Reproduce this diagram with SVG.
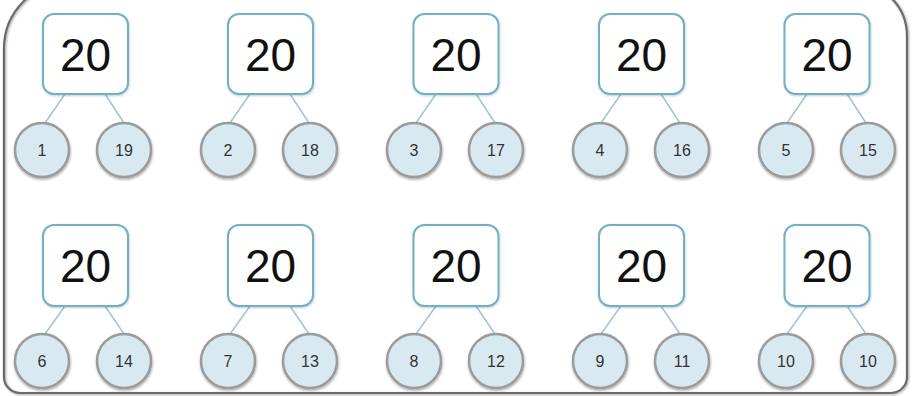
<svg xmlns="http://www.w3.org/2000/svg" width="912" height="396" viewBox="0 0 912 396">
<defs>
<filter id="sh" x="-30%" y="-30%" width="160%" height="170%">
<feDropShadow dx="0.5" dy="1.5" stdDeviation="1" flood-color="#000" flood-opacity="0.35"/>
</filter>
<filter id="shb" x="-30%" y="-30%" width="160%" height="170%">
<feDropShadow dx="0.5" dy="1" stdDeviation="0.8" flood-color="#000" flood-opacity="0.2"/>
</filter>
<filter id="shf" x="-5%" y="-5%" width="110%" height="110%">
<feDropShadow dx="1" dy="1" stdDeviation="1" flood-color="#000" flood-opacity="0.35"/>
</filter>
</defs>
<style>
.box{fill:#fff;stroke:#6fb0c8;stroke-width:2;filter:url(#shb)}
.big{font-family:"Liberation Sans",Arial,sans-serif;font-size:46px;fill:#111;text-anchor:middle}
.c{fill:#d9e9f1;stroke:#9b9b9b;stroke-width:2.5;filter:url(#sh)}
.sm{font-family:"Liberation Sans",Arial,sans-serif;font-size:16px;fill:#333;text-anchor:middle}
.ln{stroke:#9cc6d6;stroke-width:1.5;fill:none}
.frame{fill:none;stroke:#6a6a6a;stroke-width:2.2;filter:url(#shf)}
</style>
<rect width="912" height="396" fill="#fff"/>
<path class="frame" d="M4,377 V48.5 A66.5,66.5 0 0 1 70.5,-18 H853 A54,54 0 0 1 907,36 V377 A16,16 0 0 1 891,393 H20 A16,16 0 0 1 4,377 Z"/>
<g id="connectors">
<path class="ln" d="M65,94 L45,123 M105,94 L124,123"/>
<path class="ln" d="M250,94 L230,123 M290,94 L309,123"/>
<path class="ln" d="M436,94 L416,123 M476,94 L495,123"/>
<path class="ln" d="M621,94 L601,123 M661,94 L680,123"/>
<path class="ln" d="M807,94 L787,123 M847,94 L866,123"/>
<path class="ln" d="M65,306 L45,334 M105,306 L124,334"/>
<path class="ln" d="M250,306 L230,334 M290,306 L309,334"/>
<path class="ln" d="M436,306 L416,334 M476,306 L495,334"/>
<path class="ln" d="M621,306 L601,334 M661,306 L680,334"/>
<path class="ln" d="M807,306 L787,334 M847,306 L866,334"/>
</g>
<g id="n1"><rect class="box" x="43" y="14" width="85" height="80" rx="11"/><text class="big" x="85.5" y="70.5">20</text></g>
<g id="n2"><rect class="box" x="228" y="14" width="85" height="80" rx="11"/><text class="big" x="270.5" y="70.5">20</text></g>
<g id="n3"><rect class="box" x="413.5" y="14" width="85" height="80" rx="11"/><text class="big" x="456" y="70.5">20</text></g>
<g id="n4"><rect class="box" x="599" y="14" width="85" height="80" rx="11"/><text class="big" x="641.5" y="70.5">20</text></g>
<g id="n5"><rect class="box" x="784.5" y="14" width="85" height="80" rx="11"/><text class="big" x="827" y="70.5">20</text></g>
<g id="n6"><rect class="box" x="43" y="225" width="85" height="81" rx="11"/><text class="big" x="85.5" y="282">20</text></g>
<g id="n7"><rect class="box" x="228" y="225" width="85" height="81" rx="11"/><text class="big" x="270.5" y="282">20</text></g>
<g id="n8"><rect class="box" x="413.5" y="225" width="85" height="81" rx="11"/><text class="big" x="456" y="282">20</text></g>
<g id="n9"><rect class="box" x="599" y="225" width="85" height="81" rx="11"/><text class="big" x="641.5" y="282">20</text></g>
<g id="n10"><rect class="box" x="784.5" y="225" width="85" height="81" rx="11"/><text class="big" x="827" y="282">20</text></g>
<g id="c1"><circle class="c" cx="42" cy="150" r="27"/><text class="sm" x="42" y="156">1</text></g>
<g id="c19"><circle class="c" cx="124" cy="150" r="27"/><text class="sm" x="124" y="156">19</text></g>
<g id="c2"><circle class="c" cx="228" cy="150" r="27"/><text class="sm" x="228" y="156">2</text></g>
<g id="c18"><circle class="c" cx="310" cy="150" r="27"/><text class="sm" x="310" y="156">18</text></g>
<g id="c3"><circle class="c" cx="414" cy="150" r="27"/><text class="sm" x="414" y="156">3</text></g>
<g id="c17"><circle class="c" cx="496" cy="150" r="27"/><text class="sm" x="496" y="156">17</text></g>
<g id="c4"><circle class="c" cx="600" cy="150" r="27"/><text class="sm" x="600" y="156">4</text></g>
<g id="c16"><circle class="c" cx="682" cy="150" r="27"/><text class="sm" x="682" y="156">16</text></g>
<g id="c5"><circle class="c" cx="786" cy="150" r="27"/><text class="sm" x="786" y="156">5</text></g>
<g id="c15"><circle class="c" cx="868" cy="150" r="27"/><text class="sm" x="868" y="156">15</text></g>
<g id="c6"><circle class="c" cx="42" cy="361" r="27"/><text class="sm" x="42" y="367">6</text></g>
<g id="c14"><circle class="c" cx="124" cy="361" r="27"/><text class="sm" x="124" y="367">14</text></g>
<g id="c7"><circle class="c" cx="228" cy="361" r="27"/><text class="sm" x="228" y="367">7</text></g>
<g id="c13"><circle class="c" cx="310" cy="361" r="27"/><text class="sm" x="310" y="367">13</text></g>
<g id="c8"><circle class="c" cx="414" cy="361" r="27"/><text class="sm" x="414" y="367">8</text></g>
<g id="c12"><circle class="c" cx="496" cy="361" r="27"/><text class="sm" x="496" y="367">12</text></g>
<g id="c9"><circle class="c" cx="600" cy="361" r="27"/><text class="sm" x="600" y="367">9</text></g>
<g id="c11"><circle class="c" cx="682" cy="361" r="27"/><text class="sm" x="682" y="367">11</text></g>
<g id="c10a"><circle class="c" cx="786" cy="361" r="27"/><text class="sm" x="786" y="367">10</text></g>
<g id="c10b"><circle class="c" cx="868" cy="361" r="27"/><text class="sm" x="868" y="367">10</text></g>
</svg>
